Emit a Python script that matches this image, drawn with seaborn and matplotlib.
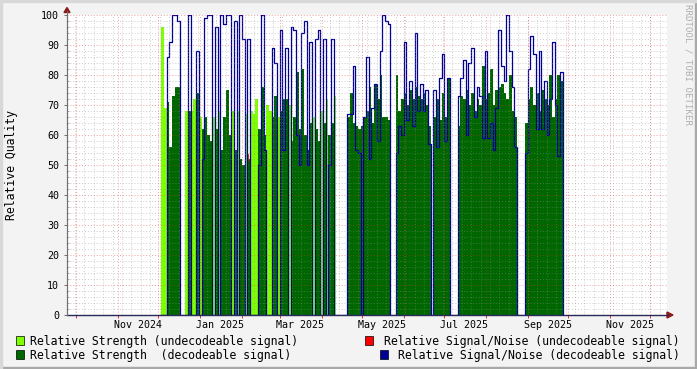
import numpy as np
import pandas as pd
import matplotlib
matplotlib.use("Agg")
import matplotlib.pyplot as plt
import matplotlib.dates as mdates
from matplotlib.patches import Rectangle, Polygon
import seaborn as sns

# ---------------- data (one sample every 2 days, starting 2024-12-03) ----------------
start_date = "2024-12-03"
sample_days = 2
# u = undecodeable signal, d = decodeable signal, g = no data
state = ("uudddddggu" "duududdddu" "duddddudud" "duduuudddu" "uddudddudd"
         "dddddduddu" "dudduggggd" "dddddddddd" "dddddggddd" "dddddddddd"
         "gddddddggg" "dddddddddd" "dddddddddd" "ddgggddddd" "ddddddddd")
strength = [96, 69, 71, 56, 73, 76, 76, 0, 0, 68,
            68, 68, 72, 74, 66, 62, 66, 60, 58, 66,
            62, 68, 55, 66, 75, 60, 68, 55, 68, 52,
            50, 67, 52, 68, 67, 72, 62, 76, 60, 70,
            68, 66, 73, 66, 68, 72, 72, 70, 58, 66,
            81, 62, 82, 60, 55, 64, 66, 62, 58, 68,
            64, 72, 60, 64, 73, 0, 0, 0, 0, 66,
            74, 64, 63, 62, 63, 66, 68, 76, 64, 77,
            72, 80, 66, 66, 65, 0, 0, 80, 68, 72,
            74, 70, 75, 72, 76, 73, 72, 74, 70, 63,
            0, 66, 72, 65, 74, 66, 79, 0, 0, 0,
            63, 73, 72, 75, 70, 74, 68, 72, 70, 83,
            72, 74, 82, 70, 75, 76, 77, 74, 72, 80,
            68, 66, 0, 0, 0, 64, 72, 76, 70, 74,
            68, 75, 72, 70, 80, 66, 72, 80, 78]
snr = [0, 0, 86, 91, 100, 100, 98, 0, 0, 0,
       100, 0, 0, 88, 0, 52, 99, 100, 100, 0,
       96, 0, 100, 97, 100, 100, 0, 98, 0, 100,
       92, 0, 92, 0, 0, 0, 50, 100, 55, 0,
       0, 89, 84, 0, 95, 55, 89, 0, 96, 95,
       60, 50, 94, 98, 50, 91, 0, 92, 95, 0,
       92, 0, 50, 92, 0, 0, 0, 0, 0, 67,
       67, 83, 55, 54, 0, 66, 86, 52, 69, 77,
       58, 88, 100, 98, 97, 0, 0, 54, 63, 60,
       91, 65, 78, 63, 94, 68, 77, 68, 75, 57,
       0, 75, 56, 79, 87, 58, 79, 0, 0, 0,
       73, 79, 85, 60, 84, 89, 66, 76, 73, 59,
       88, 59, 64, 55, 69, 95, 83, 78, 100, 88,
       76, 56, 0, 0, 0, 54, 82, 93, 87, 62,
       88, 62, 78, 60, 72, 91, 70, 53, 81]
snr_undec_dates = ["2025-02-05 18:00", "2025-02-05 18:00"]
snr_undec = [51.5, 53.5]

x_tick_labels = ["Nov 2024", "Jan 2025", "Mar 2025", "May 2025", "Jul 2025", "Sep 2025", "Nov 2025"]
legend_labels = ["Relative Strength (undecodeable signal)",
                 "Relative Signal/Noise (undecodeable signal)",
                 "Relative Strength  (decodeable signal)",
                 "Relative Signal/Noise (decodeable signal)"]

C_LIGHT = "#80FF00"
C_DARK = "#006600"
C_RED = "#FF0000"
C_BLUE = "#000099"

# ---------------- figure ----------------
W, H = 697, 369
fig = plt.figure(figsize=(W / 100, H / 100), dpi=100, facecolor="#F3F3F3")
plt.rcParams["font.family"] = ["DejaVu Sans Mono", "DejaVu Sans"]

def fx(x):
    return x / W

def fy(y):
    return 1 - y / H

L, R, T, B = 67, 667, 15, 315
ax = fig.add_axes([fx(L), fy(B), (R - L) / W, (B - T) / H])
ax.set_facecolor("white")

t0 = pd.Timestamp("2024-11-01")
xmin = mdates.date2num(t0 - pd.Timedelta(days=37.83))
xmax = mdates.date2num(t0 + pd.Timedelta(days=407.27))
ax.set_xlim(xmin, xmax)
ax.set_ylim(0, 100)

n = len(strength)
dates = pd.date_range(start_date, periods=n + 1, freq=f"{sample_days}D")
xs = mdates.date2num(dates)
st = np.array(list(state))
s = np.array(strength, dtype=float)
s_u = np.r_[np.where(st == "u", s, 0), 0]
s_d = np.r_[np.where(st == "d", s, 0), 0]
sn = np.r_[np.array(snr, dtype=float), 0]

ax.fill_between(xs, s_u, step="post", color=C_LIGHT, lw=0, zorder=2)
ax.fill_between(xs, s_d, step="post", color=C_DARK, lw=0, zorder=3)

df_red = pd.DataFrame({"x": mdates.date2num(pd.to_datetime(snr_undec_dates)), "y": snr_undec})
sns.lineplot(data=df_red, x="x", y="y", color=C_RED, lw=1.2, estimator=None, sort=False, ax=ax, zorder=4)
df_blue = pd.DataFrame({"x": xs, "y": sn})
sns.lineplot(data=df_blue, x="x", y="y", color=C_BLUE, lw=0.9, drawstyle="steps-post",
             estimator=None, ax=ax, zorder=5)

# grid (drawn over data like rrdtool)
for v in range(2, 101, 2):
    if v % 10:
        ax.axhline(v, color="#8F8F8F", alpha=0.45, lw=0.7, ls=(0, (1, 2)), zorder=6)
for v in range(10, 101, 10):
    ax.axhline(v, color="#DE3030", alpha=0.45, lw=0.7, ls=(0, (1, 2)), zorder=7)
weeks = pd.date_range("2024-09-23", "2025-12-15", freq="W-MON")
for d in weeks:
    ax.axvline(mdates.date2num(d), color="#8F8F8F", alpha=0.45, lw=0.7, ls=(0, (1, 2)), zorder=6)
months = pd.date_range("2024-10-01", "2025-12-01", freq="MS")
for d in months:
    ax.axvline(mdates.date2num(d), color="#DE3030", alpha=0.45, lw=0.7, ls=(0, (1, 2)), zorder=7)

for sp in ["top", "right"]:
    ax.spines[sp].set_visible(False)
ax.spines["left"].set_color("#707070")
ax.spines["left"].set_linewidth(0.8)
ax.spines["bottom"].set_color("#2A2A5A")
ax.spines["bottom"].set_linewidth(1.0)
ax.spines["bottom"].set_zorder(8)

ax.set_yticks(range(0, 101, 10))
ax.set_yticklabels([str(v) for v in range(0, 101, 10)], fontsize=7.2)
ax.set_yticks(range(0, 101, 2), minor=True)
ax.tick_params(axis="y", which="major", direction="out", length=2.5, width=0.7,
               color="#707070", pad=3.2)
ax.tick_params(axis="y", which="minor", direction="in", length=1.5, width=0.6, color="#A0A0A0")

ax.set_xticks(mdates.date2num(months))
ax.set_xticklabels([""] * len(months))
label_pos = [mdates.date2num(pd.Timestamp(f"{m} 16" if False else "2000-01-01")) for m in []]
mid = pd.to_datetime(["2024-11-16", "2025-01-16", "2025-03-16", "2025-05-16",
                      "2025-07-16", "2025-09-16", "2025-11-16"])
ax.set_xticks(mdates.date2num(mid), minor=True)
ax.set_xticklabels(x_tick_labels, minor=True, fontsize=7.2)
ax.tick_params(axis="x", which="major", direction="out", length=2.5, width=0.7, color="#DE3030")
ax.tick_params(axis="x", which="minor", length=0, pad=3.5)
ax.set_xlabel("")
ax.set_ylabel("")

# arrows
ax_col = "#8B1A1A"
fig.patches.append(Polygon([(fx(64), fy(12.5)), (fx(70), fy(12.5)), (fx(67), fy(7.5))],
                           closed=True, transform=fig.transFigure, color=ax_col, figure=fig))
fig.patches.append(Polygon([(fx(667), fy(312)), (fx(667), fy(318)), (fx(673), fy(315))],
                           closed=True, transform=fig.transFigure, color=ax_col, figure=fig))
fig.add_artist(plt.Line2D([fx(67), fx(67)], [fy(315), fy(11)], color="#707070", lw=0.8))
fig.add_artist(plt.Line2D([fx(667), fx(668)], [fy(315), fy(315)], color="#2A2A5A", lw=1.0))

# axis title and watermark
fig.text(fx(12), fy(165), "Relative Quality", rotation=90, ha="center", va="center", fontsize=8.3)
fig.text(fx(688), fy(4), "RRDTOOL / TOBI OETIKER", rotation=270, ha="center", va="top",
         fontsize=6.6, color="#B0B0B0")

# legend
def swatch(x, y, c):
    fig.patches.append(Rectangle((fx(x), fy(y + 9)), 8 / W, 9 / H, transform=fig.transFigure,
                                 facecolor=c, edgecolor="black", lw=0.5, figure=fig))

swatch(16, 336, C_LIGHT)
fig.text(fx(30), fy(341), legend_labels[0], ha="left", va="center", fontsize=8.3)
swatch(365, 336, C_RED)
fig.text(fx(680), fy(341), legend_labels[1], ha="right", va="center", fontsize=8.3)
swatch(16, 350, C_DARK)
fig.text(fx(30), fy(355), legend_labels[2], ha="left", va="center", fontsize=8.3)
swatch(380, 350, C_BLUE)
fig.text(fx(680), fy(355), legend_labels[3], ha="right", va="center", fontsize=8.3)

# frame shading
fig.add_artist(Rectangle((0, 0), 1, 2 / H, transform=fig.transFigure, color="#A8A8A8"))
fig.add_artist(Rectangle((1 - 2 / W, 0), 2 / W, 1, transform=fig.transFigure, color="#A8A8A8"))
fig.add_artist(Rectangle((0, 1 - 2 / H), 1, 2 / H, transform=fig.transFigure, color="#D8D8D8"))
fig.add_artist(Rectangle((0, 0), 2 / W, 1, transform=fig.transFigure, color="#D8D8D8"))

fig.savefig("out.png", dpi=100, facecolor=fig.get_facecolor())
